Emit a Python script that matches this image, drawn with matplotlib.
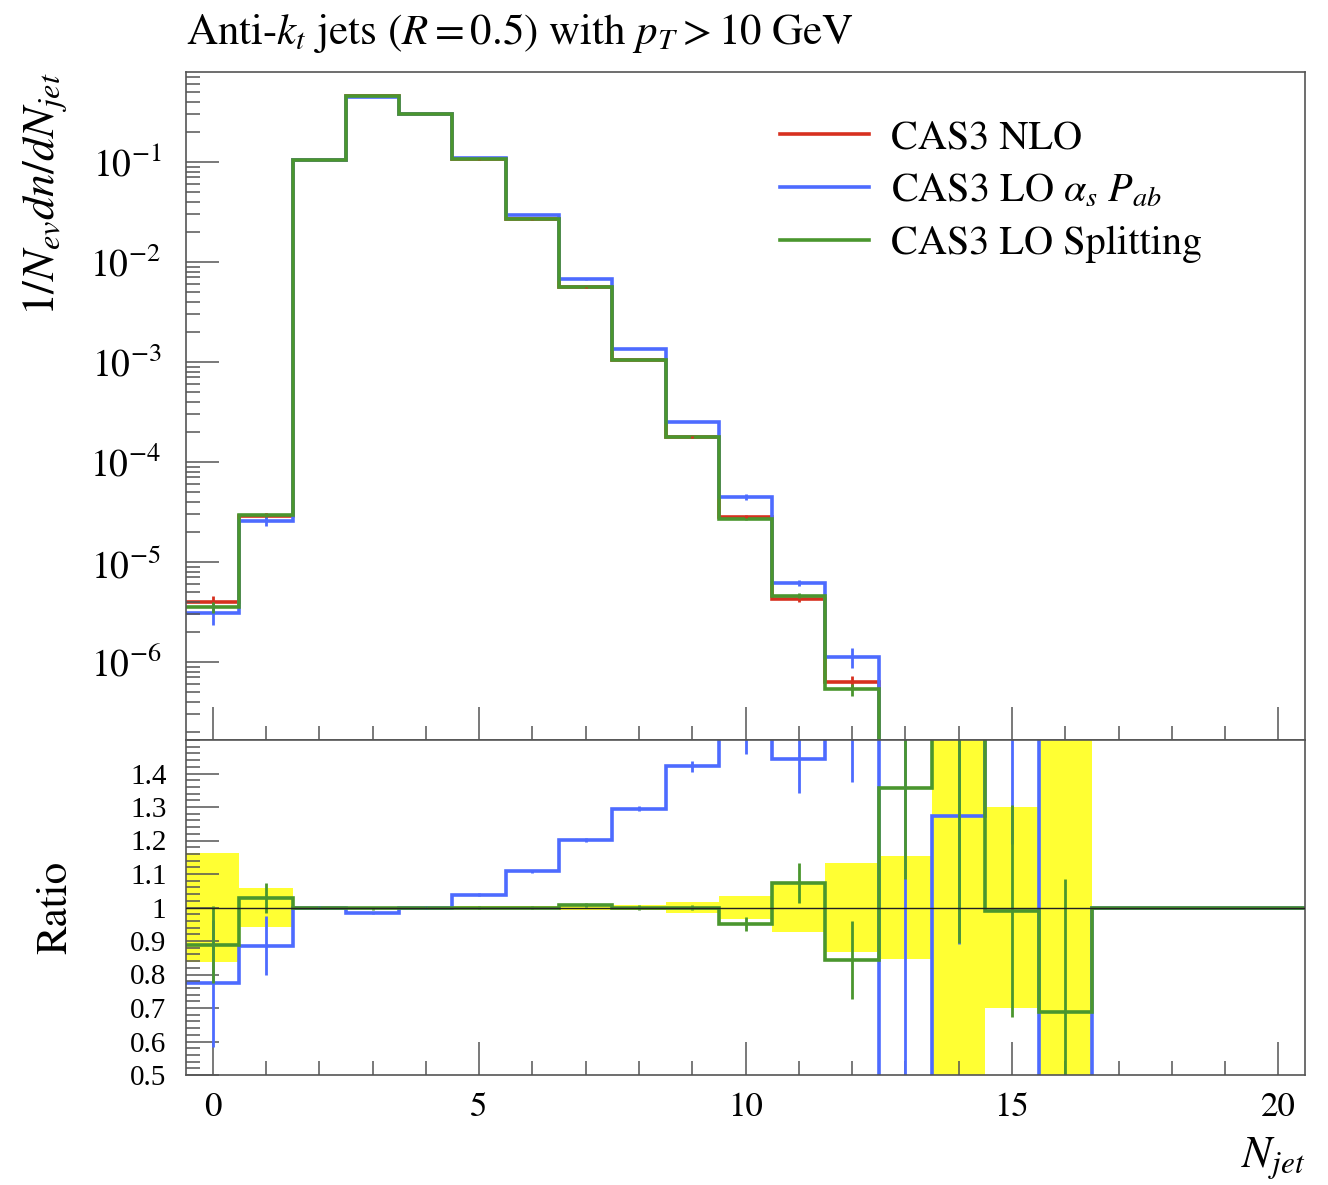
import numpy as np
import matplotlib
matplotlib.use("Agg")
import matplotlib.pyplot as plt
from matplotlib.lines import Line2D
from matplotlib.ticker import MultipleLocator, LogLocator, NullFormatter

plt.rcParams['font.family'] = ['STIXGeneral', 'DejaVu Serif']
plt.rcParams['mathtext.fontset'] = 'stix'

# bins of N_jet (0..20), edges at half-integers
n_jet = np.arange(0, 21)
edges = np.arange(-0.5, 21.0, 1.0)

# 1/N_ev dn/dN_jet (bins 13..16 lie below the shown range)
nlo = [3.97e-6, 2.90e-5, 0.105, 0.457, 0.300, 0.106, 0.0267, 0.00558, 0.00105, 1.78e-4,
       2.85e-5, 4.30e-6, 6.35e-7, 1.0e-7, 4.0e-8, 2.0e-8, 1.0e-8, 0, 0, 0, 0]
lo_as_pab = [3.07e-6, 2.57e-5, 0.105, 0.4497, 0.300, 0.110, 0.0296, 0.00670, 0.00136, 2.53e-4,
             4.47e-5, 6.20e-6, 1.12e-6, 2.0e-8, 5.09e-8, 3.4e-8, 3.0e-9, 0, 0, 0, 0]
lo_split = [3.53e-6, 2.98e-5, 0.105, 0.456, 0.300, 0.106, 0.0267, 0.00562, 0.00105, 1.78e-4,
            2.71e-5, 4.61e-6, 5.35e-7, 1.358e-7, 7.6e-8, 1.978e-8, 6.87e-9, 0, 0, 0, 0]

# relative statistical uncertainties
nlo_rel = [0.163, 0.057, 0.003, 0.002, 0.002, 0.003, 0.004, 0.006, 0.006, 0.015,
           0.033, 0.072, 0.133, 0.154, 1.0, 0.30, 1.0, 0, 0, 0, 0]
as_pab_rel = [0.245, 0.10, 0.004, 0.004, 0.004, 0.004, 0.004, 0.005, 0.006, 0.011,
              0.07, 0.07, 0.22, 7.5, 0.3, 0.3, 0.5, 0, 0, 0, 0]
split_rel = [0.129, 0.044, 0.004, 0.004, 0.004, 0.004, 0.004, 0.005, 0.006, 0.008,
             0.023, 0.056, 0.139, 0.20, 0.53, 0.32, 0.58, 0, 0, 0, 0]

ratio_ticks = ['0.5', '0.6', '0.7', '0.8', '0.9', '1', '1.1', '1.2', '1.3', '1.4']

RED = '#d7301f'
BLUE = '#4d6bff'
GREEN = '#4a962e'
YELLOW = '#ffff33'
AXC = '#555555'

nlo = np.array(nlo)
series = [
    ("CAS3 NLO", nlo, np.array(nlo_rel), RED),
    (r"CAS3 LO $\alpha_s\ P_{ab}$", np.array(lo_as_pab), np.array(as_pab_rel), BLUE),
    ("CAS3 LO Splitting", np.array(lo_split), np.array(split_rel), GREEN),
]

fig = plt.figure(figsize=(13.28, 11.85), dpi=100)
W, H = 1328, 1185
ax = fig.add_axes([186 / W, 1 - 740 / H, (1305 - 186) / W, (740 - 72) / H])
rx = fig.add_axes([186 / W, 1 - 1075 / H, (1305 - 186) / W, (1075 - 740) / H], sharex=ax)

nfill = 17  # non-empty bins in the main panel
for label, vals, rel, col in series:
    ax.stairs(vals[:nfill], edges[:nfill + 1], color=col, lw=2.6, baseline=None)
    lo = np.maximum(vals[:nfill] * (1 - rel[:nfill]), vals[:nfill] * 1e-3)
    hi = vals[:nfill] * (1 + rel[:nfill])
    ax.vlines(n_jet[:nfill], lo, hi, color=col, lw=2.0)

ax.set_yscale('log')
ax.set_xlim(-0.5, 20.5)
ax.set_ylim(10 ** -6.78, 10 ** -0.1)

# ratio panel: NLO uncertainty band, other generators divided by NLO
band = np.array(nlo_rel)
rx.stairs(1 + band, edges, baseline=1 - band, fill=True, color=YELLOW, lw=0)
for label, vals, rel, col in series[1:]:
    ratio = np.where(nlo > 0, vals / np.where(nlo > 0, nlo, 1), 1.0)
    rx.stairs(ratio, edges, color=col, lw=2.6, baseline=None)
    err = ratio * rel
    rx.vlines(n_jet, ratio - err, ratio + err, color=col, lw=2.0)
rx.axhline(1.0, color='#222222', lw=1.0, zorder=10)
rx.set_ylim(0.5, 1.5)

# ticks
for a in (ax, rx):
    a.tick_params(which='both', direction='in', top=False, right=False, color=AXC, width=1.1)
    a.tick_params(which='major', length=24)
    a.tick_params(which='minor', length=10)
    for s in a.spines.values():
        s.set_color(AXC)
        s.set_linewidth(1.2)

ax.xaxis.set_major_locator(MultipleLocator(5))
ax.xaxis.set_minor_locator(MultipleLocator(1))
ax.tick_params(labelbottom=False)
ax.yaxis.set_major_locator(LogLocator(base=10, numticks=20))
ax.yaxis.set_minor_locator(LogLocator(base=10, subs=np.arange(2, 10), numticks=50))
ax.yaxis.set_minor_formatter(NullFormatter())
ax.tick_params(axis='y', labelsize=27, pad=18)

rx.set_yticks([float(t) for t in ratio_ticks], ratio_ticks)
rx.yaxis.set_minor_locator(MultipleLocator(0.02))
rx.tick_params(axis='y', labelsize=21, pad=14, labelfontfamily='Liberation Serif')
rx.tick_params(axis='x', labelsize=25, pad=12)

# labels
ax.text(0, 1.042, r'Anti-$k_t$ jets ($R = 0.5$) with $p_T > 10$ GeV',
        transform=ax.transAxes, fontsize=31, va='baseline', ha='left')
ax.set_ylabel(r'$1/N_{ev}dn/dN_{jet}$', fontsize=33, loc='top')
ax.yaxis.set_label_coords(-0.104, 1.0)
rx.set_ylabel('Ratio', fontsize=31)
rx.yaxis.set_label_coords(-0.099, 0.5)
rx.set_xlabel(r'$N_{jet}$', fontsize=32, loc='right')
rx.xaxis.set_label_coords(1.0, -0.18)

handles = [Line2D([], [], color=c, lw=2.6) for _, _, _, c in series]
ax.legend(handles, [s[0] for s in series], loc='upper left', bbox_to_anchor=(0.531, 0.928),
          frameon=False, fontsize=29, handlelength=2.2, handletextpad=0.55,
          labelspacing=0.38, borderpad=0, borderaxespad=0)

fig.savefig('out.png', dpi=100)
